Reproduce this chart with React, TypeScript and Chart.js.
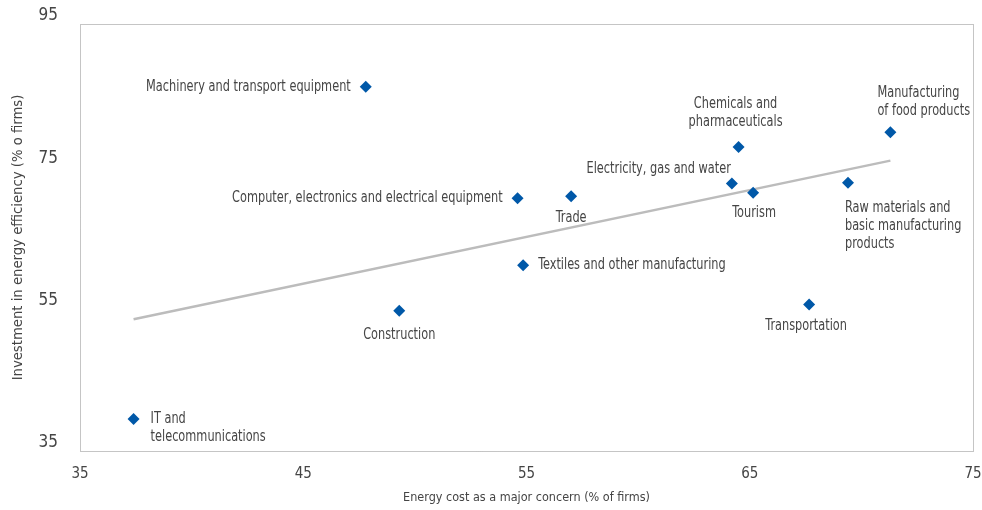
import React, { useEffect, useRef } from "react";
import { Chart, registerables } from "chart.js";

Chart.register(...registerables);

const sectors: string[][] = [
  ["Machinery and transport equipment"],
  ["Manufacturing", "of food products"],
  ["Chemicals and", "pharmaceuticals"],
  ["Electricity, gas and water"],
  ["Tourism"],
  ["Raw materials and", "basic manufacturing", "products"],
  ["Trade"],
  ["Computer, electronics and electrical equipment"],
  ["Textiles and other manufacturing"],
  ["Transportation"],
  ["Construction"],
  ["IT and", "telecommunications"],
];
const energyCost: number[] = [47.8, 71.3, 64.5, 64.2, 65.15, 69.4, 57.0, 54.6, 54.85, 67.66, 49.3, 37.4];
const investment: number[] = [86.2, 79.8, 77.7, 72.6, 71.3, 72.7, 70.8, 70.5, 61.1, 55.6, 54.7, 39.5];
const trendX: number[] = [37.4, 71.3];
const trendY: number[] = [53.5, 75.8];
const xTicks: number[] = [35, 45, 55, 65, 75];
const yTicks: number[] = [35, 55, 75, 95];

// label placement (style only): align, dx, dy
const labelPlacement: { align: CanvasTextAlign; dx: number; dy: number }[] = [
  { align: "right", dx: -15, dy: 0 },
  { align: "left", dx: -13, dy: -39 },
  { align: "center", dx: -3, dy: -43 },
  { align: "right", dx: -1, dy: -14 },
  { align: "center", dx: 1, dy: 20 },
  { align: "left", dx: -3, dy: 25 },
  { align: "center", dx: 0, dy: 22 },
  { align: "right", dx: -15, dy: 0 },
  { align: "left", dx: 15, dy: 0 },
  { align: "center", dx: -3, dy: 22 },
  { align: "center", dx: 0, dy: 24 },
  { align: "left", dx: 17, dy: 0 },
];

const FONT = "'Liberation Sans Narrow', 'DejaVu Sans Condensed', 'Arial Narrow', sans-serif";
const TEXT = "#454545";
const BLUE = "#0058a8";
const SQUEEZE = 0.84;

const noScalePadding = (s: any) => {
  s.paddingTop = 0;
  s.paddingBottom = 0;
  s.paddingLeft = 0;
  s.paddingRight = 0;
};

const boxPlugin = {
  id: "box",
  beforeDatasetsDraw(chart: any) {
    const { ctx, chartArea: a } = chart;
    ctx.save();
    ctx.strokeStyle = "#8a8a8a";
    ctx.lineWidth = 1;
    ctx.setLineDash([1, 1]);
    ctx.strokeRect(Math.round(a.left) + 0.5, Math.round(a.top) + 0.5, Math.round(a.right - a.left), Math.round(a.bottom - a.top));
    ctx.restore();
  },
};

const labelPlugin = {
  id: "pointLabels",
  afterDatasetsDraw(chart: any) {
    const { ctx } = chart;
    const meta = chart.getDatasetMeta(1);
    ctx.save();
    ctx.font = `15px ${FONT}`;
    ctx.fillStyle = TEXT;
    ctx.textBaseline = "middle";
    meta.data.forEach((pt: any, i: number) => {
      const p = labelPlacement[i];
      ctx.textAlign = p.align;
      sectors[i].forEach((line, j) => {
        ctx.save();
        ctx.translate(pt.x + p.dx, pt.y + p.dy + j * 18);
        ctx.scale(SQUEEZE, 1);
        ctx.fillText(line, 0, 0);
        ctx.restore();
      });
    });
    ctx.restore();
  },
};

export default function App() {
  const ref = useRef<HTMLCanvasElement>(null);
  useEffect(() => {
    if (!ref.current) return;
    const chart = new Chart(ref.current, {
      type: "scatter",
      data: {
        datasets: [
          {
            label: "Trend",
            data: trendX.map((x, i) => ({ x, y: trendY[i] })),
            showLine: true,
            borderColor: "#bcbcbc",
            borderWidth: 2.5,
            pointRadius: 0,
            order: 2,
          },
          {
            label: "Sectors",
            data: energyCost.map((x, i) => ({ x, y: investment[i] })),
            pointStyle: "rectRot",
            pointRadius: 6,
            backgroundColor: BLUE,
            borderColor: BLUE,
            borderWidth: 0,
            order: 1,
          },
        ],
      },
      options: {
        responsive: false,
        animation: false,
        layout: { autoPadding: false, padding: { left: 0, right: 9, top: 24, bottom: 0 } },
        plugins: { legend: { display: false }, tooltip: { enabled: false } },
        scales: {
          x: {
            type: "linear",
            min: 35,
            max: 75,
            afterBuildTicks: (s: any) => { s.ticks = xTicks.map((v) => ({ value: v })); },
            afterFit: (s: any) => { s.height = 59; noScalePadding(s); },
            grid: { display: false, drawTicks: false },
            border: { display: false },
            ticks: { padding: 14, color: TEXT, font: { family: FONT, size: 15 } },
            title: {
              display: true,
              text: "Energy cost as a major concern (% of firms)",
              color: TEXT,
              font: { family: FONT, size: 12.5 },
              padding: { top: 0, bottom: 5 },
            },
          },
          y: {
            type: "linear",
            min: 35,
            max: 95,
            afterBuildTicks: (s: any) => { s.ticks = yTicks.map((v) => ({ value: v })); },
            afterFit: (s: any) => { s.width = 80; noScalePadding(s); },
            grid: { display: false, drawTicks: false },
            border: { display: false },
            ticks: { padding: 22, labelOffset: -8, color: TEXT, font: { family: FONT, size: 17 } },
            title: {
              display: true,
              text: "Investment in energy efficiency (% o firms)",
              color: TEXT,
              font: { family: FONT, size: 14.7 },
              padding: { top: 9, bottom: 0 },
            },
          },
        },
      },
      plugins: [boxPlugin, labelPlugin],
    });
    return () => chart.destroy();
  }, []);
  return (
    <div style={{ position: "fixed", left: 0, top: 0, width: 982, height: 510, background: "#fff" }}>
      <canvas ref={ref} width={982} height={510} style={{ width: 982, height: 510 }} />
    </div>
  );
}
